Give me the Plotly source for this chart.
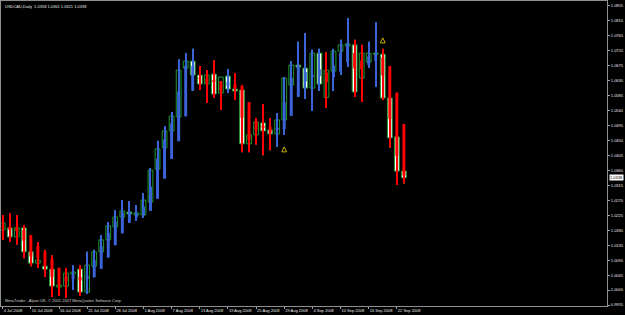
import plotly.graph_objects as go
import pandas as pd

# ---- data (USDCAD daily, 4 Jul - 23 Sep 2008) ----
dates = pd.bdate_range("2008-07-04", "2008-09-23")

opens = [1.0181, 1.0187, 1.0160, 1.0187, 1.0115, 1.0081, 1.0072, 1.0063, 1.0009, 1.0012,
         1.0048, 1.0063, 0.9994, 1.0072, 1.0115, 1.0151, 1.0190, 1.0220, 1.0235, 1.0226,
         1.0226, 1.0265, 1.0364, 1.0428, 1.0479, 1.0521, 1.0668, 1.0689, 1.0647, 1.0620,
         1.0650, 1.0593, 1.0644, 1.0605, 1.0602, 1.0440, 1.0467, 1.0503, 1.0482, 1.0470,
         1.0512, 1.0617, 1.0677, 1.0668, 1.0608, 1.0713, 1.0580, 1.0659, 1.0719, 1.0735,
         1.0738, 1.0638, 1.0686, 1.0713, 1.0710, 1.0578, 1.0461, 1.0358]
highs = [1.0226, 1.0232, 1.0226, 1.0196, 1.0136, 1.0145, 1.0121, 1.0105, 1.0054, 1.0066,
         1.0075, 1.0075, 1.0115, 1.0121, 1.0166, 1.0205, 1.0241, 1.0271, 1.0268, 1.0256,
         1.0292, 1.0367, 1.0449, 1.0494, 1.0536, 1.0695, 1.0713, 1.0726, 1.0674, 1.0662,
         1.0692, 1.0617, 1.0665, 1.0653, 1.0617, 1.0482, 1.0518, 1.0560, 1.0518, 1.0533,
         1.0641, 1.0689, 1.0747, 1.0774, 1.0723, 1.0726, 1.0716, 1.0726, 1.0753, 1.0819,
         1.0753, 1.0738, 1.0747, 1.0807, 1.0726, 1.0596, 1.0482, 1.0361]
lows = [1.0151, 1.0145, 1.0136, 1.0096, 1.0072, 1.0066, 1.0039, 0.9979, 0.9982, 0.9976,
        1.0000, 0.9982, 0.9988, 1.0054, 1.0096, 1.0139, 1.0175, 1.0205, 1.0211, 1.0208,
        1.0217, 1.0253, 1.0346, 1.0415, 1.0467, 1.0512, 1.0632, 1.0638, 1.0602, 1.0563,
        1.0578, 1.0542, 1.0593, 1.0572, 1.0415, 1.0415, 1.0437, 1.0406, 1.0421, 1.0431,
        1.0467, 1.0572, 1.0602, 1.0575, 1.0539, 1.0599, 1.0548, 1.0599, 1.0647, 1.0671,
        1.0581, 1.0566, 1.0668, 1.0611, 1.0572, 1.0428, 1.0316, 1.0321]
closes = [1.0202, 1.0160, 1.0187, 1.0115, 1.0081, 1.0090, 1.0063, 1.0012, 1.0015, 1.0051,
          1.0054, 0.9994, 1.0075, 1.0115, 1.0151, 1.0193, 1.0220, 1.0238, 1.0229, 1.0232,
          1.0271, 1.0361, 1.0425, 1.0479, 1.0524, 1.0662, 1.0689, 1.0647, 1.0620, 1.0647,
          1.0590, 1.0641, 1.0605, 1.0599, 1.0440, 1.0467, 1.0506, 1.0479, 1.0470, 1.0512,
          1.0638, 1.0677, 1.0671, 1.0608, 1.0713, 1.0620, 1.0662, 1.0719, 1.0738, 1.0741,
          1.0596, 1.0713, 1.0713, 1.0710, 1.0578, 1.0458, 1.0358, 1.0338]

fractal_up_idx = [54]
fractal_up_price = [1.0759]
fractal_dn_idx = [40]
fractal_dn_price = [1.0431]

price_ticks = [0.9955, 1.0000, 1.0045, 1.0090, 1.0135, 1.0180, 1.0225, 1.0270, 1.0315,
               1.0360, 1.0405, 1.0450, 1.0495, 1.0540, 1.0585, 1.0630, 1.0675, 1.0720,
               1.0765, 1.0810, 1.0855]
title_text = "USDCAD,Daily  1.0358 1.0361 1.0321 1.0338"
footer_text = "MetaTrader - Alpari UK, \u00a9 2001-2007 MetaQuotes Software Corp."

# ---- derived ----
n = len(closes)
idx = list(range(n))
tick_idx = list(range(0, n - 1, 4))
tick_text = [f"{dates[i].day} {dates[i]:%b %Y}" for i in tick_idx]

# Heiken Ashi overlay computed from the candles
ha_o, ha_c, ha_h, ha_l = [], [], [], []
for i in range(n):
    c = (opens[i] + highs[i] + lows[i] + closes[i]) / 4
    o = (opens[i] + closes[i]) / 2 if i == 0 else (ha_o[-1] + ha_c[-1]) / 2
    ha_o.append(o)
    ha_c.append(c)
    ha_h.append(max(highs[i], o, c))
    ha_l.append(min(lows[i], o, c))

GREEN = "#1f9a30"
BLUE = "#3b64d8"
RED = "#ff0000"
MIN_H = 0.00006

body_base = [min(o, c) for o, c in zip(opens, closes)]
body_h = [max(abs(c - o), MIN_H) for o, c in zip(opens, closes)]
body_fill = ["#000000" if c > o else "#ffffff" for o, c in zip(opens, closes)]

ha_base = [min(o, c) for o, c in zip(ha_o, ha_c)]
ha_hgt = [max(abs(c - o), MIN_H) for o, c in zip(ha_o, ha_c)]
ha_col = [BLUE if c > o else RED for o, c in zip(ha_o, ha_c)]

fig = go.Figure()
# candle wicks
fig.add_trace(go.Bar(x=idx, base=lows, y=[h - l for h, l in zip(highs, lows)],
                     width=0.15, marker=dict(color=GREEN, line=dict(width=0))))
# candle bodies
fig.add_trace(go.Bar(x=idx, base=body_base, y=body_h, width=0.68,
                     marker=dict(color=body_fill, line=dict(color=GREEN, width=1))))
# Heiken Ashi wicks
fig.add_trace(go.Bar(x=idx, base=ha_l, y=[h - l for h, l in zip(ha_h, ha_l)],
                     width=0.15, marker=dict(color=ha_col, line=dict(width=0))))
# Heiken Ashi bodies
fig.add_trace(go.Bar(x=idx, base=ha_base, y=ha_hgt, width=0.42,
                     marker=dict(color=ha_col, line=dict(width=0))))
# fractals
fig.add_trace(go.Scatter(x=fractal_up_idx, y=fractal_up_price, mode="markers",
                         marker=dict(symbol="arrow-up-open", size=5, color="#c8b000",
                                     line=dict(width=1, color="#c8b000"))))
fig.add_trace(go.Scatter(x=fractal_dn_idx, y=fractal_dn_price, mode="markers",
                         marker=dict(symbol="arrow-up-open", size=5, color="#c8b000",
                                     line=dict(width=1, color="#c8b000"))))

axis_font = dict(family="Liberation Sans, Arial, sans-serif", size=4, color="#e8e8e8")

fig.update_layout(
    width=625, height=315,
    margin=dict(l=1, r=18, t=1, b=9),
    paper_bgcolor="#000000", plot_bgcolor="#000000",
    barmode="overlay", showlegend=False, hovermode=False,
    xaxis=dict(range=[-0.24, 85.86], tickvals=tick_idx, ticktext=tick_text,
               ticklabelposition="outside right", tickangle=0, automargin=False,
               ticks="outside", ticklen=2,
               tickcolor="#a0a0a0", showgrid=False, zeroline=False,
               showline=True, linecolor="#909090", linewidth=1, mirror=True,
               tickfont=axis_font),
    yaxis=dict(range=[0.9952, 1.0870], side="right", tickvals=price_ticks,
               ticktext=[f"{v:.4f}" for v in price_ticks], ticks="outside", ticklen=2,
               automargin=False,
               tickcolor="#a0a0a0", showgrid=False, zeroline=False,
               showline=True, linecolor="#909090", linewidth=1, mirror=True,
               tickfont=axis_font),
    annotations=[
        dict(text=title_text, xref="paper", yref="paper", x=0.004, y=1, yshift=-1,
             xanchor="left", yanchor="top", showarrow=False,
             font=dict(family="Liberation Sans, Arial, sans-serif", size=4, color="#e8e8e8")),
        dict(text=footer_text, xref="paper", yref="paper", x=0.004, y=0, yshift=1,
             xanchor="left", yanchor="bottom", showarrow=False,
             font=dict(family="Liberation Sans, Arial, sans-serif", size=4, color="#d0d0d0")),
        dict(text=f"{closes[-1]:.4f}", xref="paper", yref="y", x=1, xshift=2,
             y=closes[-1], xanchor="left", yanchor="middle", showarrow=False,
             bgcolor="#ffffff", borderpad=0,
             font=dict(family="Liberation Sans, Arial, sans-serif", size=4, color="#000000")),
    ],
)

fig.write_html("out.html")
